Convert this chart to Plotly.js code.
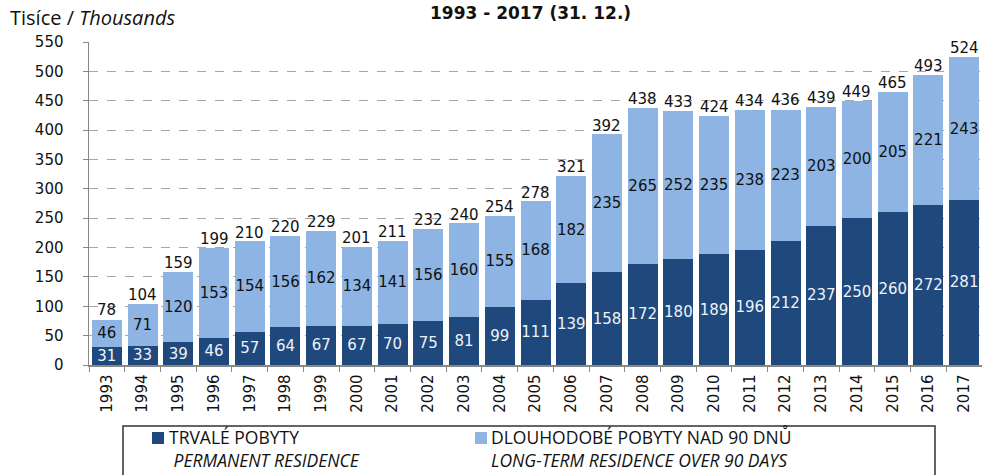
<!DOCTYPE html>
<html>
<head>
<meta charset="utf-8">
<script src="https://cdn.plot.ly/plotly-3.0.1.min.js"></script>
<style>html,body{margin:0;padding:0;background:#fff;}#chart{width:982px;height:475px;}</style>
</head>
<body>
<div id="chart"></div>
<script>
const years = ["1993","1994","1995","1996","1997","1998","1999","2000","2001","2002","2003","2004","2005","2006","2007","2008","2009","2010","2011","2012","2013","2014","2015","2016","2017"];
const permanent = [31,33,39,46,57,64,67,67,70,75,81,99,111,139,158,172,180,189,196,212,237,250,260,272,281];
const longTerm = [46,71,120,153,154,156,162,134,141,156,160,155,168,182,235,265,252,235,238,223,203,200,205,221,243];
const totals = [78,104,159,199,210,220,229,201,211,232,240,254,278,321,392,438,433,424,434,436,439,449,465,493,524];
const yTicks = [0,50,100,150,200,250,300,350,400,450,500,550];

const DARK = "#1F497D", LIGHT = "#8DB4E2";
const labelFont = "DejaVu Sans, Verdana, sans-serif";
const legFont = "Open Sans, sans-serif";

const traces = [
  {type:"bar", x:years, y:permanent, marker:{color:DARK}, text:permanent.map(String),
   textposition:"inside", insidetextanchor:"middle", constraintext:"none", textangle:0,
   textfont:{family:labelFont, size:15, color:"#eef2f8"}, hoverinfo:"skip", showlegend:false},
  {type:"bar", x:years, y:longTerm, marker:{color:LIGHT}, text:longTerm.map(String),
   textposition:"inside", insidetextanchor:"middle", constraintext:"none", textangle:0,
   textfont:{family:labelFont, size:15, color:"#111"}, hoverinfo:"skip", showlegend:false}
];

const annotations = years.map((yr,i)=>({x:i, y:totals[i], xref:"x", yref:"y", text:String(totals[i]),
  showarrow:false, yanchor:"bottom", yshift:-2, font:{family:labelFont, size:15, color:"#111"}}));

const px = v => (v-89)/893;
const py = v => (365-v)/323;
annotations.push(
  {xref:"paper", yref:"paper", x:px(8), y:py(17), xanchor:"left", yanchor:"middle", showarrow:false,
   text:"Tisíce / <i>Thousands</i>", font:{family:legFont, size:20, color:"#111"}},
  {xref:"paper", yref:"paper", x:px(530), y:py(13), xanchor:"center", yanchor:"middle", showarrow:false,
   text:"<b>1993 - 2017 (31. 12.)</b>", font:{family:labelFont, size:17, color:"#111"}},
  {xref:"paper", yref:"paper", x:px(167), y:py(448), xanchor:"left", yanchor:"middle", align:"left", showarrow:false,
   text:"TRVALÉ POBYTY<br><i> PERMANENT RESIDENCE</i>", font:{family:legFont, size:17.5, color:"#111"}},
  {xref:"paper", yref:"paper", x:px(489), y:py(448), xanchor:"left", yanchor:"middle", align:"left", showarrow:false,
   text:"DLOUHODOBÉ POBYTY NAD 90 DNŮ<br><i>LONG-TERM RESIDENCE OVER 90 DAYS</i>", font:{family:legFont, size:17.5, color:"#111"}}
);

const shapes = [
  {type:"rect", xref:"paper", yref:"paper", x0:px(123), x1:px(935), y0:py(426), y1:py(490),
   line:{color:"#333", width:1.5}, fillcolor:"rgba(0,0,0,0)"},
  {type:"rect", xref:"paper", yref:"paper", x0:px(152), x1:px(164), y0:py(432), y1:py(444),
   line:{width:0}, fillcolor:DARK},
  {type:"rect", xref:"paper", yref:"paper", x0:px(475), x1:px(487), y0:py(432), y1:py(444),
   line:{width:0}, fillcolor:LIGHT}
];

const layout = {
  width:982, height:475,
  margin:{l:89, r:0, t:42, b:110, pad:0},
  paper_bgcolor:"#fff", plot_bgcolor:"#fff",
  barmode:"stack", bargap:0.16,
  showlegend:false,
  xaxis:{type:"category", range:[-0.5,24.5], tickangle:-90, tickson:"boundaries", ticks:"outside", ticklen:5,
         tickcolor:"#888", showline:true, linecolor:"#888", linewidth:1.5, showgrid:false,
         tickfont:{family:labelFont, size:15, color:"#111"}, ticklabelstandoff:2, fixedrange:true},
  yaxis:{range:[0,550], tickvals:yTicks, ticktext:yTicks.map(String), ticks:"outside", ticklen:5,
         tickcolor:"#888", showline:true, linecolor:"#888", linewidth:1.5,
         showgrid:true, gridcolor:"#a6a6a6", griddash:"dash", gridwidth:1, zeroline:false,
         tickfont:{family:labelFont, size:15, color:"#111"}, ticklabelstandoff:16, fixedrange:true},
  annotations:annotations, shapes:shapes
};

Plotly.newPlot("chart", traces, layout, {displayModeBar:false, staticPlot:true});
</script>
</body>
</html>
